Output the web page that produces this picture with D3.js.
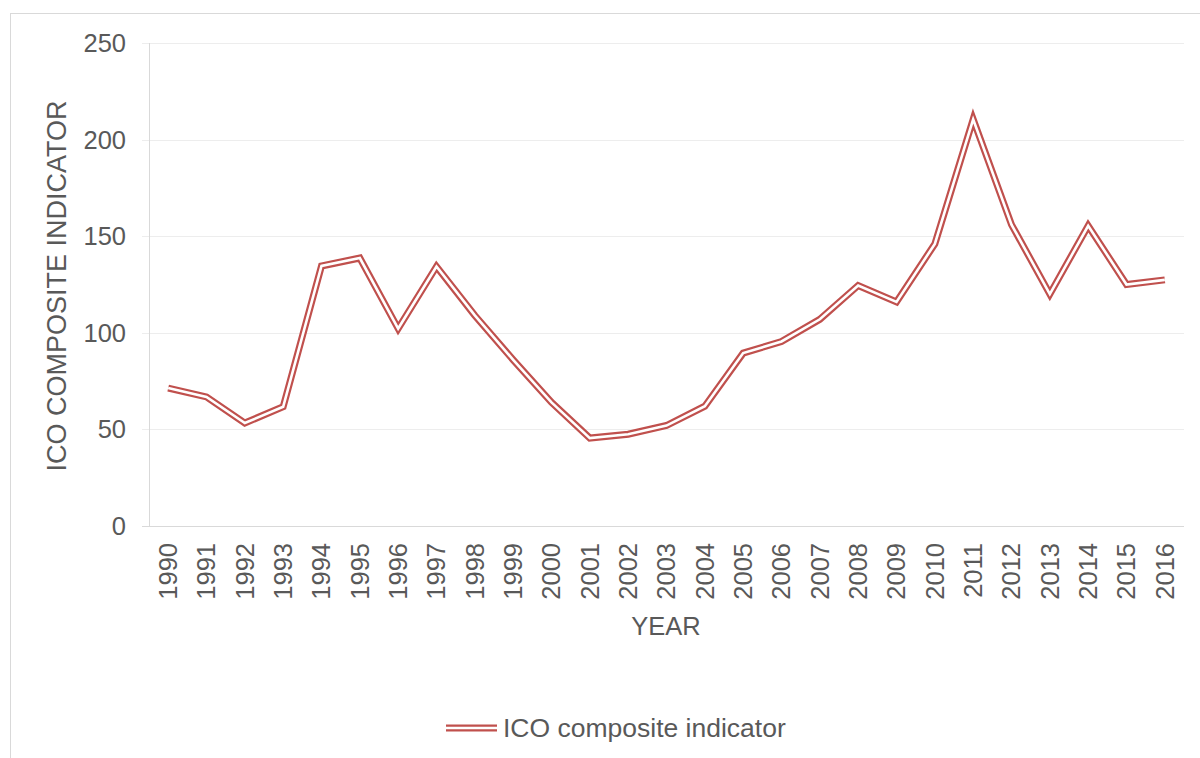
<!DOCTYPE html>
<html>
<head>
<meta charset="utf-8">
<script src="https://cdn.jsdelivr.net/npm/d3@7"></script>
<style>
  html, body { margin: 0; padding: 0; background: #fff; }
  svg { display: block; }
  text { font-family: "Liberation Sans", Arial, sans-serif; fill: #595959; }
</style>
</head>
<body>
<svg id="chart" width="1200" height="758"></svg>
<script>
const years = ["1990","1991","1992","1993","1994","1995","1996","1997","1998","1999","2000","2001","2002","2003","2004","2005","2006","2007","2008","2009","2010","2011","2012","2013","2014","2015","2016"];
const icoValues = [71.4, 66.8, 53.3, 61.7, 134.6, 138.7, 102.2, 134.3, 109, 86, 64, 45.5, 47.5, 52, 62, 89.5, 95.5, 107, 124.5, 116, 146, 210.5, 156, 120, 155.4, 125, 127.4];
const yTicks = [0, 50, 100, 150, 200, 250];
const seriesName = "ICO composite indicator";
const xTitle = "YEAR";
const yTitle = "ICO COMPOSITE INDICATOR";

const svg = d3.select("#chart");
const W = 1200, H = 758;
const m = { left: 149, right: 1184, top: 43, bottom: 526 };
const red = "#C0504D";

// chart frame
svg.append("rect").attr("x", 10.5).attr("y", 13.5).attr("width", W).attr("height", H)
  .attr("fill", "#fff").attr("stroke", "#d9d9d9").attr("stroke-width", 1);

const x = d3.scaleBand().domain(years).range([m.left, m.right]);
const y = d3.scaleLinear().domain([0, 250]).range([m.bottom, m.top]);

// gridlines
svg.append("g").selectAll("line").data(yTicks.filter(d => d > 0)).join("line")
  .attr("x1", m.left - 7).attr("x2", m.right)
  .attr("y1", d => Math.round(y(d)) + 0.5).attr("y2", d => Math.round(y(d)) + 0.5)
  .attr("stroke", "#ededed").attr("stroke-width", 1);

// y axis line
svg.append("line").attr("x1", m.left + 0.5).attr("x2", m.left + 0.5)
  .attr("y1", m.top).attr("y2", m.bottom).attr("stroke", "#d9d9d9");
// x axis line
svg.append("line").attr("x1", m.left - 7).attr("x2", m.right)
  .attr("y1", m.bottom + 0.5).attr("y2", m.bottom + 0.5).attr("stroke", "#d9d9d9");

// y tick labels
svg.append("g").selectAll("text").data(yTicks).join("text")
  .attr("x", 126).attr("y", d => y(d)).attr("dy", "0.35em")
  .attr("text-anchor", "end").attr("font-size", 25.5).text(d => d);

// x tick labels
svg.append("g").selectAll("text").data(years).join("text")
  .attr("transform", d => `translate(${x(d) + x.bandwidth() / 2},543) rotate(-90)`)
  .attr("dy", "0.35em").attr("text-anchor", "end").attr("font-size", 25.5).text(d => d);

// axis titles
svg.append("text").attr("x", 666).attr("y", 635).attr("text-anchor", "middle")
  .attr("font-size", 25.5).text(xTitle);
svg.append("text").attr("transform", "translate(57,286) rotate(-90)")
  .attr("dy", "0.35em").attr("text-anchor", "middle").attr("font-size", 27).text(yTitle);

// double line
const line = d3.line().x((d, i) => x(years[i]) + x.bandwidth() / 2).y(d => y(d));
const g = svg.append("g");
g.append("path").datum(icoValues).attr("d", line).attr("fill", "none")
  .attr("stroke", red).attr("stroke-width", 7).attr("stroke-linejoin", "miter");
g.append("path").datum(icoValues).attr("d", line).attr("fill", "none")
  .attr("stroke", "#fff").attr("stroke-width", 2.6).attr("stroke-linejoin", "miter");

// legend
const lg = svg.append("g");
lg.append("line").attr("x1", 446).attr("x2", 497).attr("y1", 728).attr("y2", 728)
  .attr("stroke", red).attr("stroke-width", 7);
lg.append("line").attr("x1", 446).attr("x2", 497).attr("y1", 728).attr("y2", 728)
  .attr("stroke", "#fff").attr("stroke-width", 2.6);
lg.append("text").attr("x", 503).attr("y", 728).attr("dy", "0.35em")
  .attr("font-size", 26.5).text(seriesName);
</script>
</body>
</html>
